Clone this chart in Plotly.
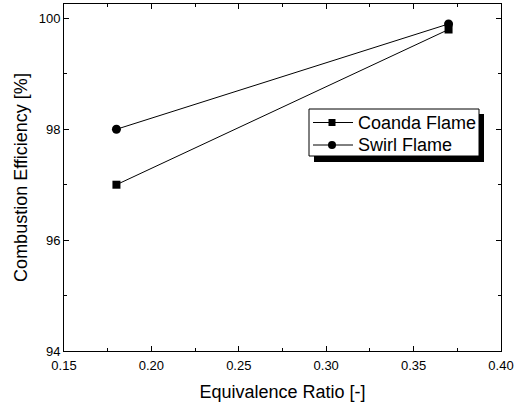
import plotly.graph_objects as go

equivalence_ratio = [0.18, 0.37]
coanda_eff = [97.0, 99.8]
swirl_eff = [98.0, 99.9]
series_names = ["Coanda Flame", "Swirl Flame"]

x_ticks = [0.15, 0.20, 0.25, 0.30, 0.35, 0.40]
x_tick_labels = ["0.15", "0.20", "0.25", "0.30", "0.35", "0.40"]
y_ticks = [94, 96, 98, 100]

W, H = 531, 402
L, R, T, B = 64, 30, 4, 51

fig = go.Figure()
fig.add_trace(go.Scatter(x=equivalence_ratio, y=coanda_eff, mode="lines+markers",
                         name=series_names[0], showlegend=False,
                         line=dict(color="black", width=1),
                         marker=dict(symbol="square", size=8, color="black")))
fig.add_trace(go.Scatter(x=equivalence_ratio, y=swirl_eff, mode="lines+markers",
                         name=series_names[1], showlegend=False,
                         line=dict(color="black", width=1),
                         marker=dict(symbol="circle", size=9, color="black")))

pw = W - L - R
ph = H - T - B
def px_x(p):
    return (p - L) / pw
def px_y(p):
    return (H - B - p) / ph

# manual legend with drop shadow
def rect(x0, y0, x1, y1, **kw):
    fig.add_shape(type="rect", xref="paper", yref="paper",
                  x0=px_x(x0), x1=px_x(x1), y0=px_y(y1), y1=px_y(y0), layer="above", **kw)

rect(314, 114, 484, 162, fillcolor="black", line=dict(width=0))
rect(309, 109, 479, 156, fillcolor="white", line=dict(color="black", width=1))

rows = [122.5, 145.0]
for i, cy in enumerate(rows):
    fig.add_shape(type="line", xref="paper", yref="paper",
                  x0=px_x(313), x1=px_x(353), y0=px_y(cy), y1=px_y(cy),
                  line=dict(color="black", width=1), layer="above")
    if i == 0:
        rect(328.5, cy - 3.5, 335.5, cy + 3.5, fillcolor="black", line=dict(width=0))
    else:
        fig.add_shape(type="circle", xref="paper", yref="paper",
                      x0=px_x(328), x1=px_x(336), y0=px_y(cy + 4), y1=px_y(cy - 4),
                      fillcolor="black", line=dict(width=0), layer="above")
    fig.add_annotation(xref="paper", yref="paper", x=px_x(356), y=px_y(cy),
                       xanchor="left", yanchor="middle", showarrow=False,
                       text=series_names[i], font=dict(size=18, color="black"))

fig.update_layout(
    width=W, height=H,
    margin=dict(l=L, r=R, t=T, b=B, autoexpand=False),
    paper_bgcolor="white", plot_bgcolor="white",
    font=dict(family="Arial, Liberation Sans", color="black", size=13),
    showlegend=False,
    xaxis=dict(range=[0.15, 0.40], tickvals=x_ticks, ticktext=x_tick_labels,
               ticks="inside", ticklen=5, tickwidth=1, tickcolor="black",
               ticklabelstandoff=2,
               minor=dict(dtick=0.025, ticks="inside", ticklen=3, tickcolor="black"),
               showline=True, linecolor="black", linewidth=1, mirror="ticks",
               showgrid=False, zeroline=False, automargin=False,
               title=dict(text="Equivalence Ratio [-]", font=dict(size=18), standoff=14)),
    yaxis=dict(range=[94, 100.26], tickvals=y_ticks,
               ticks="inside", ticklen=5, tickwidth=1, tickcolor="black",
               minor=dict(dtick=1, tick0=94, ticks="inside", ticklen=3, tickcolor="black"),
               showline=True, linecolor="black", linewidth=1, mirror="ticks",
               showgrid=False, zeroline=False, automargin=False,
               title=dict(text="Combustion Efficiency [%]", font=dict(size=18), standoff=6)),
)

fig.write_html("out.html", config={"displayModeBar": False},
               post_script="document.body.style.margin='0';document.body.style.overflow='hidden';")
